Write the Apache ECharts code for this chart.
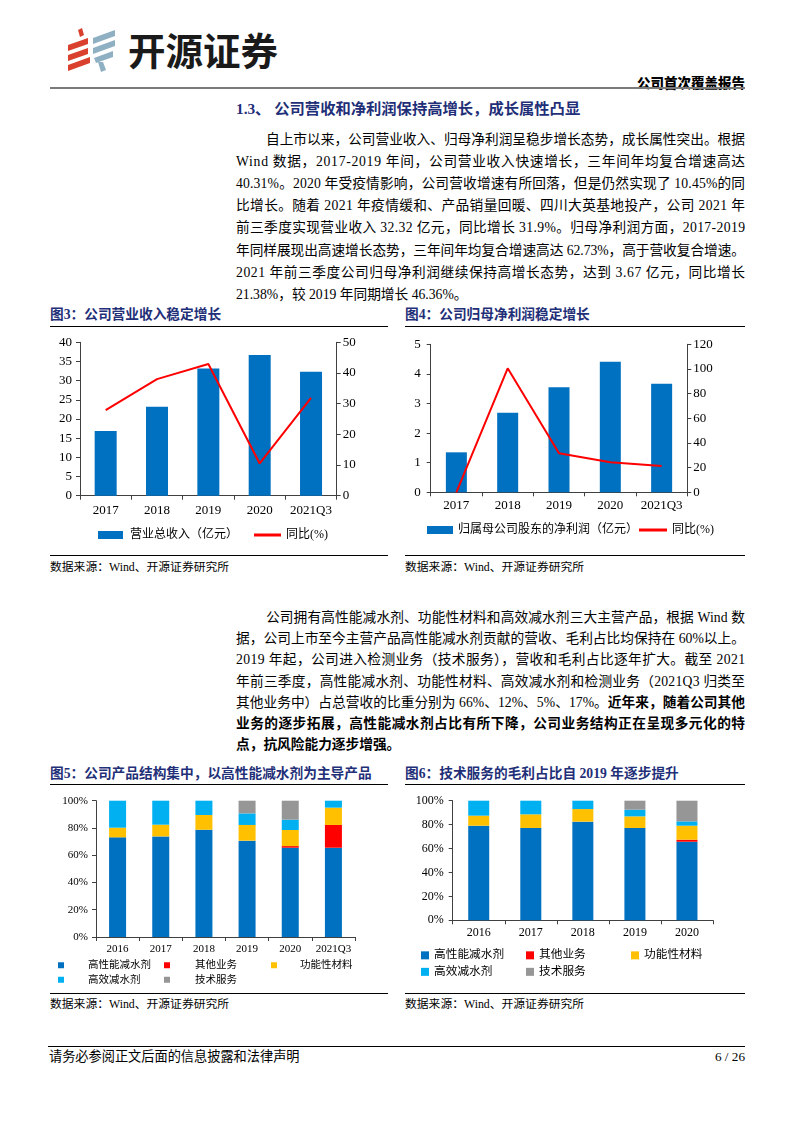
<!DOCTYPE html>
<html><head><meta charset="utf-8">
<script src="https://cdn.jsdelivr.net/npm/echarts/dist/echarts.min.js"></script>
<style>
html,body{margin:0;padding:0;background:#fff;}
#page{position:relative;width:793px;height:1122px;overflow:hidden;font-family:'Liberation Serif','Noto Sans CJK SC',serif;color:#000;}
.abs{position:absolute;white-space:nowrap;}
.ln{position:absolute;white-space:nowrap;font-size:13.7px;line-height:22px;height:22px;}
.navy{color:#1F2F78;font-weight:bold;}
.ttl{position:absolute;white-space:nowrap;font-size:13.7px;line-height:18px;color:#1F2F78;font-weight:bold;}
.src{position:absolute;white-space:nowrap;font-size:11.8px;line-height:16px;}
.rule{position:absolute;height:0;border-top:1px solid #000;}
b{font-weight:bold;}
#chart{position:absolute;left:0;top:0;width:793px;height:1122px;}
</style></head>
<body>
<div id="page">
  <svg class="abs" style="left:66px;top:28px" width="54" height="46" viewBox="0 0 54 46">
    <g fill="#D9412E">
      <polygon points="12,2 16,0 18,7 14,9"/>
      <polygon points="2,17 22,10 22,16 2,23"/>
      <polygon points="2,27 22,20 22,26 2,33"/>
      <polygon points="2,37 24,29 24,35 2,43"/>
    </g>
    <g fill="#8FB0C2">
      <polygon points="27,10 49,2 49,8 27,16"/>
      <polygon points="27,20 49,12 49,18 27,26"/>
      <polygon points="28,30 47,23 47,29 30,35"/>
      <polygon points="32,34 37,34 40,42 35,44"/>
    </g>
  </svg>
  <div class="abs" style="left:128px;top:27px;font-family:'Noto Sans CJK SC';font-weight:700;font-size:37.5px;line-height:44px;color:#1a1a1a;">开源证券</div>
  <div class="abs" style="right:48px;top:73px;font-family:'Noto Sans CJK SC';font-weight:900;font-size:13.5px;line-height:18px;">公司首次覆盖报告</div>
  <div class="abs" style="left:50px;top:86.5px;width:695px;height:2px;background:#7a7a7a;"></div>

  <div class="abs navy" style="left:236px;top:98px;font-size:15.3px;line-height:22px;">1.3、 公司营收和净利润保持高增长，成长属性凸显</div>

  <div class="ln j" data-w="479" style="left:266px;top:129px;">自上市以来，公司营业收入、归母净利润呈稳步增长态势，成长属性突出。根据</div>
  <div class="ln j" data-w="509" style="left:236px;top:151.1px;">Wind 数据，2017-2019 年间，公司营业收入快速增长，三年间年均复合增速高达</div>
  <div class="ln j" data-w="509" style="left:236px;top:173.2px;">40.31%。2020 年受疫情影响，公司营收增速有所回落，但是仍然实现了 10.45%的同</div>
  <div class="ln j" data-w="509" style="left:236px;top:195.3px;">比增长。随着 2021 年疫情缓和、产品销量回暖、四川大英基地投产，公司 2021 年</div>
  <div class="ln j" data-w="509" style="left:236px;top:217.4px;">前三季度实现营业收入 32.32 亿元，同比增长 31.9%。归母净利润方面，2017-2019</div>
  <div class="ln j" data-w="509" style="left:236px;top:239.5px;">年同样展现出高速增长态势，三年间年均复合增速高达 62.73%，高于营收复合增速。</div>
  <div class="ln j" data-w="509" style="left:236px;top:261.6px;">2021 年前三季度公司归母净利润继续保持高增长态势，达到 3.67 亿元，同比增长</div>
  <div class="ln" style="left:236px;top:283.7px;">21.38%，较 2019 年同期增长 46.36%。</div>

  <div class="ttl" style="left:50px;top:306px;">图3：公司营业收入稳定增长</div>
  <div class="ttl" style="left:405px;top:306px;">图4：公司归母净利润稳定增长</div>
  <div class="rule" style="left:50px;top:325.5px;width:338px;"></div>
  <div class="rule" style="left:405px;top:325.5px;width:340px;"></div>
  <div class="rule" style="left:50px;top:554.5px;width:338px;"></div>
  <div class="rule" style="left:405px;top:554.5px;width:340px;"></div>
  <div class="src" style="left:50px;top:559px;">数据来源：Wind、开源证券研究所</div>
  <div class="src" style="left:405px;top:559px;">数据来源：Wind、开源证券研究所</div>

  <div class="ln j" data-w="479" style="left:266px;top:607px;">公司拥有高性能减水剂、功能性材料和高效减水剂三大主营产品，根据 Wind 数</div>
  <div class="ln j" data-w="509" style="left:236px;top:628.2px;">据，公司上市至今主营产品高性能减水剂贡献的营收、毛利占比均保持在 60%以上。</div>
  <div class="ln j" data-w="509" style="left:236px;top:649.4px;">2019 年起，公司进入检测业务（技术服务），营收和毛利占比逐年扩大。截至 2021</div>
  <div class="ln j" data-w="509" style="left:236px;top:670.6px;">年前三季度，高性能减水剂、功能性材料、高效减水剂和检测业务（2021Q3 归类至</div>
  <div class="ln j" data-w="509" style="left:236px;top:691.8px;">其他业务中）占总营收的比重分别为 66%、12%、5%、17%。<b>近年来，随着公司其他</b></div>
  <div class="ln j" data-w="509" style="left:236px;top:713px;"><b>业务的逐步拓展，高性能减水剂占比有所下降，公司业务结构正在呈现多元化的特</b></div>
  <div class="ln" style="left:236px;top:734.2px;"><b>点，抗风险能力逐步增强。</b></div>

  <div class="ttl" style="left:50px;top:765px;">图5：公司产品结构集中，以高性能减水剂为主导产品</div>
  <div class="ttl" style="left:405px;top:765px;">图6：技术服务的毛利占比自 2019 年逐步提升</div>
  <div class="rule" style="left:50px;top:783.5px;width:338px;"></div>
  <div class="rule" style="left:405px;top:783.5px;width:340px;"></div>
  <div class="rule" style="left:50px;top:992.5px;width:338px;"></div>
  <div class="rule" style="left:405px;top:992.5px;width:340px;"></div>
  <div class="src" style="left:50px;top:996px;">数据来源：Wind、开源证券研究所</div>
  <div class="src" style="left:405px;top:996px;">数据来源：Wind、开源证券研究所</div>

  <div class="rule" style="left:48px;top:1046px;width:697px;"></div>
  <div class="abs" style="left:49px;top:1048px;font-size:13.2px;line-height:18px;">请务必参阅正文后面的信息披露和法律声明</div>
  <div class="abs" style="right:48px;top:1048px;font-size:13.2px;line-height:18px;">6 / 26</div>

  <div id="chart"></div>
</div>
<script>
// ---- data ----
const years3 = ['2017', '2018', '2019', '2020', '2021Q3'];
const revenue = [16.9, 23.2, 33.2, 36.7, 32.3];
const revenueYoY = [27.9, 38.0, 42.9, 10.5, 31.9];
const netProfit = [1.35, 2.69, 3.55, 4.41, 3.67];
const netProfitYoY = [0, 100.5, 31.6, 24.3, 21.4];

const years5 = ['2016', '2017', '2018', '2019', '2020', '2021Q3'];
const revHighPerf = [73.1, 73.8, 78.7, 70.7, 65.5, 65.5];
const revOther = [0, 0, 0, 0, 1.2, 16.7];
const revFunctional = [7.1, 8.6, 10.8, 11.5, 11.8, 12.7];
const revHighEff = [19.8, 17.6, 10.5, 8.5, 7.6, 5.1];
const revTech = [0, 0, 0, 9.3, 13.9, 0];

const years6 = ['2016', '2017', '2018', '2019', '2020'];
const gpHighPerf = [79.1, 77.2, 82.5, 77.2, 65.7];
const gpOther = [0, 0, 0, 0, 1.7];
const gpFunctional = [8.4, 11.4, 10.5, 9.7, 11.7];
const gpHighEff = [12.5, 11.4, 7.0, 5.6, 3.6];
const gpTech = [0, 0, 0, 7.5, 17.3];

const segNames = ['高性能减水剂', '其他业务', '功能性材料', '高效减水剂', '技术服务'];
const segColors = ['#0070C0', '#FF0000', '#FFC000', '#00B0F0', '#969696'];
const nameBar3 = '营业总收入（亿元）';
const nameBar4 = '归属母公司股东的净利润（亿元）';
const nameYoY = '同比(%)';

// ---- justify lines ----
function justify() {
  document.querySelectorAll('.ln.j').forEach(el => {
    el.style.letterSpacing = '0px';
    const target = +el.dataset.w;
    const w = el.getBoundingClientRect().width;
    const n = el.textContent.length;
    if (n > 1) el.style.letterSpacing = ((target - w) / (n - 1)) + 'px';
  });
}

const FF = "'Liberation Serif','Noto Sans CJK SC',serif";
const axisCol = '#404040';

function valAxis(grid, min, max, interval, pos, fs, margin, fmt) {
  return {
    type: 'value', gridIndex: grid, min: min, max: max, interval: interval, position: pos,
    axisLine: { show: true, lineStyle: { color: axisCol, width: 1 } },
    axisTick: { show: true, length: 4, lineStyle: { color: axisCol } },
    splitLine: { show: false },
    axisLabel: { color: '#000', fontSize: fs, fontFamily: FF, margin: margin, formatter: fmt || '{value}' }
  };
}
function catAxis(grid, data, fs, margin) {
  return {
    type: 'category', gridIndex: grid, data: data,
    axisLine: { show: true, lineStyle: { color: axisCol, width: 1 } },
    axisTick: { show: true, length: 4, interval: 0, lineStyle: { color: axisCol } },
    axisLabel: { color: '#000', fontSize: fs, fontFamily: FF, margin: margin, interval: 0, hideOverlap: false }
  };
}

const series = [
  { name: nameBar3, type: 'bar', xAxisIndex: 0, yAxisIndex: 0, data: revenue, barWidth: 22, itemStyle: { color: '#0070C0' } },
  { name: nameYoY, type: 'line', xAxisIndex: 0, yAxisIndex: 1, data: revenueYoY, symbol: 'none', lineStyle: { color: '#FF0000', width: 2 }, itemStyle: { color: '#FF0000' } },
  { name: nameBar4, type: 'bar', xAxisIndex: 1, yAxisIndex: 2, data: netProfit, barWidth: 21, itemStyle: { color: '#0070C0' } },
  { name: nameYoY, type: 'line', xAxisIndex: 1, yAxisIndex: 3, data: netProfitYoY, symbol: 'none', lineStyle: { color: '#FF0000', width: 2 }, itemStyle: { color: '#FF0000' } }
];
const revSegs = [revHighPerf, revOther, revFunctional, revHighEff, revTech];
const gpSegs = [gpHighPerf, gpOther, gpFunctional, gpHighEff, gpTech];
segNames.forEach((nm, i) => {
  series.push({ name: nm, type: 'bar', stack: 'rev', xAxisIndex: 2, yAxisIndex: 4, data: revSegs[i], barWidth: 17, itemStyle: { color: segColors[i] } });
});
segNames.forEach((nm, i) => {
  series.push({ name: nm, type: 'bar', stack: 'gp', xAxisIndex: 3, yAxisIndex: 5, data: gpSegs[i], barWidth: 21, itemStyle: { color: segColors[i] } });
});

function leg(name, left, top, iw, ih, fs, padL, icon) {
  const item = icon ? { name: name, icon: icon } : name;
  return {
    data: [item], left: left, top: top, padding: 0, itemWidth: iw, itemHeight: ih, selectedMode: false,
    textStyle: { color: '#000', fontSize: fs, fontFamily: FF, padding: [0, 0, 0, padL || 0] }
  };
}

const option = {
  animation: false,
  backgroundColor: 'transparent',
  textStyle: { fontFamily: FF },
  grid: [
    { left: 80, top: 342.3, width: 256.7, height: 153.4 },
    { left: 430.7, top: 344.3, width: 256.6, height: 148 },
    { left: 96, top: 800.7, width: 259, height: 136.3 },
    { left: 452.7, top: 800.7, width: 260.3, height: 119.6 }
  ],
  xAxis: [
    catAxis(0, years3, 13, 8),
    catAxis(1, years3, 13, 7),
    catAxis(2, years5, 11, 7),
    catAxis(3, years6, 12, 7)
  ],
  yAxis: [
    valAxis(0, 0, 40, 5, 'left', 13, 8),
    valAxis(0, 0, 50, 10, 'right', 13, 6),
    valAxis(1, 0, 5, 1, 'left', 13, 10),
    valAxis(1, 0, 120, 20, 'right', 13, 6),
    valAxis(2, 0, 100, 20, 'left', 11, 8, '{value}%'),
    valAxis(3, 0, 100, 20, 'left', 12, 9, '{value}%')
  ],
  legend: [
    leg(nameBar3, 98, 529, 25, 8, 12, 2, 'rect'),
    leg(nameYoY, 254, 529, 27, 3, 12, 0, 'rect'),
    leg(nameBar4, 427, 524, 26, 8, 12, 0, 'rect'),
    leg(nameYoY, 639, 524, 28, 3, 12, 0, 'rect'),

    leg(segNames[0], 58, 960, 6, 6, 10.5, 19, 'rect'),
    leg(segNames[1], 164, 960, 6, 6, 10.5, 20, 'rect'),
    leg(segNames[2], 271, 960, 6, 6, 10.5, 18, 'rect'),
    leg(segNames[3], 58, 974.5, 6, 6, 10.5, 19, 'rect'),
    leg(segNames[4], 164, 974.5, 6, 6, 10.5, 20, 'rect'),

    leg(segNames[0], 421, 949.5, 8, 8, 11.7, 0, 'rect'),
    leg(segNames[1], 526, 949.5, 8, 8, 11.7, 0, 'rect'),
    leg(segNames[2], 631, 949.5, 8, 8, 11.7, 0, 'rect'),
    leg(segNames[3], 421, 966, 8, 8, 11.7, 0, 'rect'),
    leg(segNames[4], 526, 966, 8, 8, 11.7, 0, 'rect')
  ],
  series: series
};

function draw() {
  justify();
  const chart = echarts.init(document.getElementById('chart'), null, { renderer: 'canvas' });
  chart.setOption(option);
}
if (document.fonts && document.fonts.ready) { document.fonts.ready.then(draw); } else { draw(); }
</script>
</body></html>
